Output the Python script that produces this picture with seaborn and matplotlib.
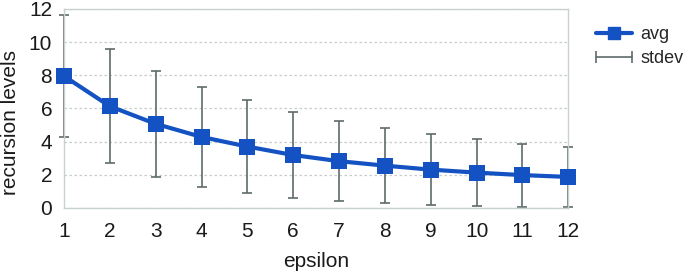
import numpy as np
import pandas as pd
import matplotlib
matplotlib.use("Agg")
import matplotlib.pyplot as plt
import seaborn as sns
from matplotlib.lines import Line2D
from matplotlib.legend_handler import HandlerLine2D

sns.set_style("white")
plt.rcParams["font.family"] = ["Liberation Sans", "DejaVu Sans"]

# data
epsilon = [1, 2, 3, 4, 5, 6, 7, 8, 9, 10, 11, 12]
avg = [7.95, 6.13, 5.07, 4.28, 3.70, 3.19, 2.82, 2.55, 2.31, 2.13, 1.98, 1.87]
stdev = [3.67, 3.45, 3.20, 3.01, 2.79, 2.57, 2.41, 2.27, 2.13, 2.03, 1.90, 1.83]

df = pd.DataFrame({"epsilon": epsilon, "avg": avg, "stdev": stdev})

blue = "#1452c4"
grey = "#5f6b6b"

fig = plt.figure(figsize=(6.88, 2.78), dpi=100)
ax = fig.add_axes([0.093, 0.252, 0.733, 0.716])

eb = ax.errorbar(df["epsilon"], df["avg"], yerr=df["stdev"], fmt="none",
                 ecolor=grey, elinewidth=1.2, capsize=3.5, capthick=1.2, zorder=2)
for art in eb.lines[1] + eb.lines[2]:
    art.set_clip_on(False)
sns.lineplot(data=df, x="epsilon", y="avg", ax=ax, color=blue, linewidth=3,
             marker="s", markersize=11, markeredgewidth=0, zorder=3, clip_on=False)

ax.set_xlim(1, 12)
ax.set_ylim(0, 12)
ax.set_xticks(epsilon)
ax.set_yticks(range(0, 13, 2))
ax.yaxis.grid(True, linestyle=(0, (2, 2)), color="#c8cccc", linewidth=0.9)
for s in ax.spines.values():
    s.set_color("#c8d0d0")
    s.set_linewidth(1)
ax.tick_params(axis="both", direction="out", length=6.5, width=1,
               color="#c8d0d0", labelsize=15, labelcolor="#1a1a1a")
ax.tick_params(axis="y", pad=2)
ax.tick_params(axis="x", pad=3.5)
ax.set_xlabel("epsilon", fontsize=15, color="#1a1a1a")
ax.set_ylabel("recursion levels", fontsize=15, color="#1a1a1a")
ax.xaxis.set_label_coords(0.5, -0.222)
ax.yaxis.set_label_coords(-0.087, 0.43)

h_avg = Line2D([], [], color=blue, linewidth=3, marker="s", markersize=9)
h_sd = Line2D([], [], color=grey, linewidth=1.2, marker="|", markersize=8,
              markeredgewidth=1.2)
fig.legend([h_avg, h_sd], ["avg", "stdev"], loc="upper left",
           bbox_to_anchor=(0.843, 0.965), frameon=False, fontsize=13,
           handlelength=2.0, handletextpad=0.45, labelspacing=0.4,
           handler_map={h_sd: HandlerLine2D(numpoints=2, marker_pad=0)})

fig.savefig("out.png", dpi=100)
